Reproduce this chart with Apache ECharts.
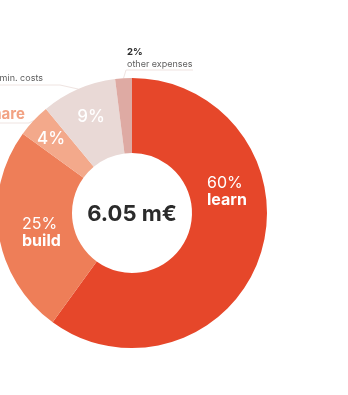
<!DOCTYPE html>
<html><head><meta charset="utf-8">
<script src="https://cdn.jsdelivr.net/npm/echarts@6/dist/echarts.min.js"></script>
<style>html,body{margin:0;padding:0;background:#fff}#c{width:348px;height:395px}</style>
</head><body><div id="c"></div>
<script>
// ---- data ----
const categories = ['learn', 'build', 'share', 'admin. costs', 'other expenses'];
const shares = [60, 25, 4, 9, 2];
const totalLabel = '6.05 m€';

// ---- styles ----
const colors = ['#E6472A', '#EE7E58', '#F3A98B', '#E9D9D6', '#DEAAA3'];
const FONT = 'Inter, "Helvetica Neue", Arial, sans-serif';
const CENTER = [132, 213];
const RADIUS = [60, 135];
// inside label anchors: [x, y, align]
const insidePos = [[207, 192, 'left'], [22, 233, 'left'], [51, 139, 'center'], [91, 117, 'center'], null];
// outer label anchors
const outerPos = [null, null,
  {x: 25, y: 123, align: 'right', elbow: [29, 123], end: -12},
  {x: 43, y: 84, align: 'right', elbow: [60, 85], end: -16},
  {x: 127, y: 70, align: 'left', elbow: [126, 70], end: 193}];
const outerFmt = [null, null, '{sh|{b}}', '{nm|{b}}', '{pc|{c}%}\n{nm|{b}}'];

const insideData = categories.map((c, i) => ({
  name: c, value: shares[i], itemStyle: {color: colors[i]},
  label: {show: i < 4, formatter: i < 2 ? '{pct|{c}%}\n{nm|{b}}' : '{sm|{c}%}'}
}));
const outerData = categories.map((c, i) => ({
  name: c, value: shares[i],
  label: {show: !!outerFmt[i], formatter: outerFmt[i] || ''},
  labelLine: {show: !!outerFmt[i]}
}));

const chart = echarts.init(document.getElementById('c'), null, {renderer: 'canvas'});
chart.setOption({
  animation: false,
  backgroundColor: '#fff',
  graphic: [{
    type: 'text', x: CENTER[0], y: CENTER[1] + 1, z: 10,
    style: {text: totalLabel, align: 'center', verticalAlign: 'middle',
      fontFamily: FONT, fontSize: 22, fontWeight: 'bold', fill: '#2b2b2b'}
  }],
  series: [{
    type: 'pie', center: CENTER, radius: RADIUS, startAngle: 90, clockwise: true,
    silent: true, avoidLabelOverlap: false,
    itemStyle: {borderWidth: 0},
    label: {position: 'inside', fontFamily: FONT,
      rich: {
        pct: {fontFamily: FONT, fontSize: 16, color: '#fff', lineHeight: 17},
        nm: {fontFamily: FONT, fontSize: 16, fontWeight: 'bold', color: '#fff', lineHeight: 17},
        sm: {fontFamily: FONT, fontSize: 17, fontWeight: 500, color: '#fff', lineHeight: 18}
      }},
    labelLine: {show: false},
    labelLayout: function (p) {
      const a = insidePos[p.dataIndex];
      if (!a) return {};
      return {x: a[0], y: a[1], align: a[2], verticalAlign: 'middle'};
    },
    data: insideData
  }, {
    type: 'pie', center: CENTER, radius: RADIUS, startAngle: 90, clockwise: true,
    silent: true, avoidLabelOverlap: false,
    itemStyle: {color: 'rgba(0,0,0,0)', borderWidth: 0},
    label: {position: 'outside', fontFamily: FONT,
      rich: {
        pc: {fontFamily: FONT, fontSize: 9.5, fontWeight: 'bold', color: '#2b2b2b', lineHeight: 12},
        nm: {fontFamily: FONT, fontSize: 9, color: '#5f5f5f', lineHeight: 12},
        sh: {fontFamily: FONT, fontSize: 15, fontWeight: 'bold', color: '#F2A283', lineHeight: 17}
      }},
    labelLine: {lineStyle: {color: '#EFE4E1', width: 1}, length: 10, length2: 10},
    labelLayout: function (p) {
      const o = outerPos[p.dataIndex];
      if (!o) return {};
      const res = {x: o.x, y: o.y, align: o.align, verticalAlign: 'bottom'};
      if (p.labelLinePoints && p.labelLinePoints.length) {
        const p0 = p.labelLinePoints[0];
        res.labelLinePoints = [p0, o.elbow, [o.end, o.elbow[1]]];
      }
      return res;
    },
    data: outerData
  }]
});
</script></body></html>
